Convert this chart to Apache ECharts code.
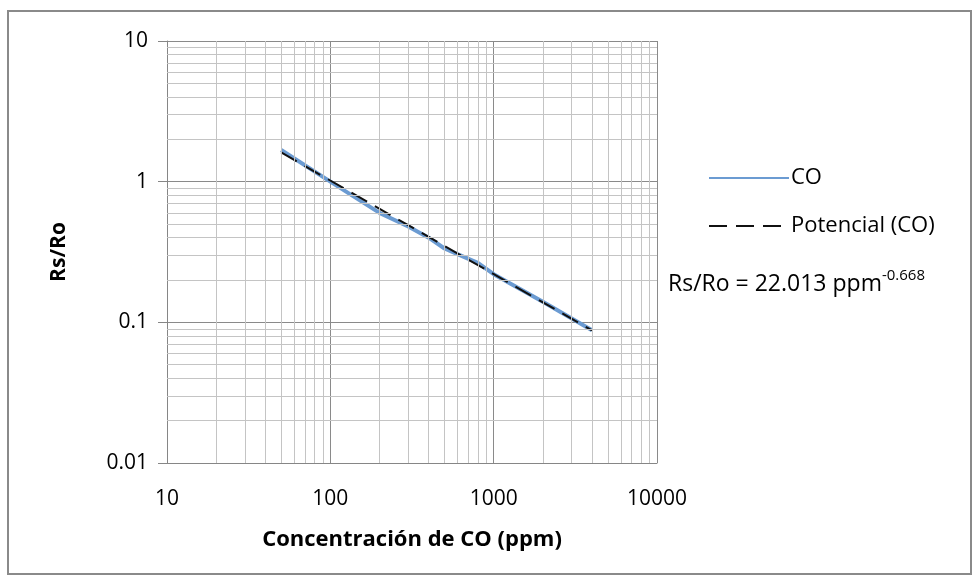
<!DOCTYPE html>
<html>
<head>
<meta charset="utf-8">
<script src="https://cdn.jsdelivr.net/npm/echarts@6/dist/echarts.min.js"></script>
<style>
html,body{margin:0;padding:0;background:#fff;}
#c{width:978px;height:581px;}
</style>
</head>
<body>
<div id="c"></div>
<script>
// Data
const coPpm   = [50, 100, 200, 300, 400, 500, 600, 800, 1000, 2000, 4000];
const coRsRo  = [1.68, 1.0, 0.6, 0.48, 0.4, 0.335, 0.305, 0.265, 0.22, 0.14, 0.088];
const fitPpm  = [50, 4000];
const fitRsRo = [1.614, 0.0876];
const xMinorTicks = [20,30,40,50,60,70,80,90,200,300,400,500,600,700,800,900,2000,3000,4000,5000,6000,7000,8000,9000];
const yMinorTicks = [0.02,0.03,0.04,0.05,0.06,0.07,0.08,0.09,0.2,0.3,0.4,0.5,0.6,0.7,0.8,0.9,2,3,4,5,6,7,8,9];
const seriesNames = ['CO', 'Potencial (CO)'];
const xTitle = 'Concentración de CO (ppm)';
const yTitle = 'Rs/Ro';

const FONT = 'Open Sans';
const chart = echarts.init(document.getElementById('c'), null, {renderer:'canvas'});

const minorStyle = {color:'#c4c4c4', width:1, type:'solid'};
const markLines = [];
xMinorTicks.forEach(v => markLines.push({xAxis: v}));
yMinorTicks.forEach(v => markLines.push({yAxis: v}));

chart.setOption({
  backgroundColor:'#fff',
  animation:false,
  grid:{left:167, top:41, width:490, height:422, containLabel:false},
  xAxis:{
    type:'log', logBase:10, min:10, max:10000,
    name:xTitle, nameLocation:'middle', nameGap:66,
    nameTextStyle:{fontFamily:FONT, fontSize:22, fontWeight:'bold', color:'#000'},
    axisLine:{show:true, lineStyle:{color:'#868686', width:1}},
    axisTick:{show:false},
    axisLabel:{fontFamily:FONT, fontSize:21, color:'#000', margin:26,
      formatter: v => String(v)},
    splitLine:{show:true, lineStyle:{color:'#8a8a8a', width:1}},
    minorTick:{show:false}, minorSplitLine:{show:false}
  },
  yAxis:{
    type:'log', logBase:10, min:0.01, max:10,
    name:yTitle, nameLocation:'middle', nameGap:97, nameRotate:90,
    nameTextStyle:{fontFamily:FONT, fontSize:21, fontWeight:'bold', color:'#000'},
    axisLine:{show:true, lineStyle:{color:'#868686', width:1}},
    axisTick:{show:true, inside:false, length:9, lineStyle:{color:'#868686'}},
    axisLabel:{fontFamily:FONT, fontSize:21, color:'#000', margin:19,
      formatter: v => String(v)},
    splitLine:{show:true, lineStyle:{color:'#8a8a8a', width:1}},
    minorTick:{show:false}, minorSplitLine:{show:false}
  },
  legend:{
    orient:'vertical', left:703, top:162, itemGap:26,
    itemWidth:80, itemHeight:14,
    itemStyle:{opacity:0},
    textStyle:{fontFamily:FONT, fontSize:22, color:'#000', padding:[0,0,0,-3]},
    data:seriesNames
  },
  series:[
    {
      type:'line', name:'minor', silent:true, data:[], legendHoverLink:false,
      markLine:{silent:true, symbol:['none','none'], label:{show:false},
        lineStyle:minorStyle, animation:false, data:markLines}
    },
    {
      type:'line', name:seriesNames[0], symbol:'none',
      data: coPpm.map((x,i)=>[x, coRsRo[i]]),
      lineStyle:{color:'#6b9bd2', width:4}, itemStyle:{color:'#6b9bd2'}, z:3
    },
    {
      type:'line', name:seriesNames[1], symbol:'none',
      data: fitPpm.map((x,i)=>[x, fitRsRo[i]]),
      lineStyle:{color:'#111', width:2, type:[18,9]}, itemStyle:{color:'#111'}, z:4
    }
  ],
  graphic:[
    {type:'rect', shape:{x:8, y:11, width:963, height:563},
     style:{fill:'none', stroke:'#8a8a8a', lineWidth:2}, z:-1},
    {type:'text', left:668, top:268,
     style:{
       text:'{a|Rs/Ro = 22.013 ppm}{s|-0.668}',
       rich:{
         a:{fontFamily:FONT, fontSize:23, fill:'#000', verticalAlign:'bottom'},
         s:{fontFamily:FONT, fontSize:15, fill:'#000', verticalAlign:'top', padding:[0,0,13,0]}
       }
     }}
  ]
});
</script>
</body>
</html>
